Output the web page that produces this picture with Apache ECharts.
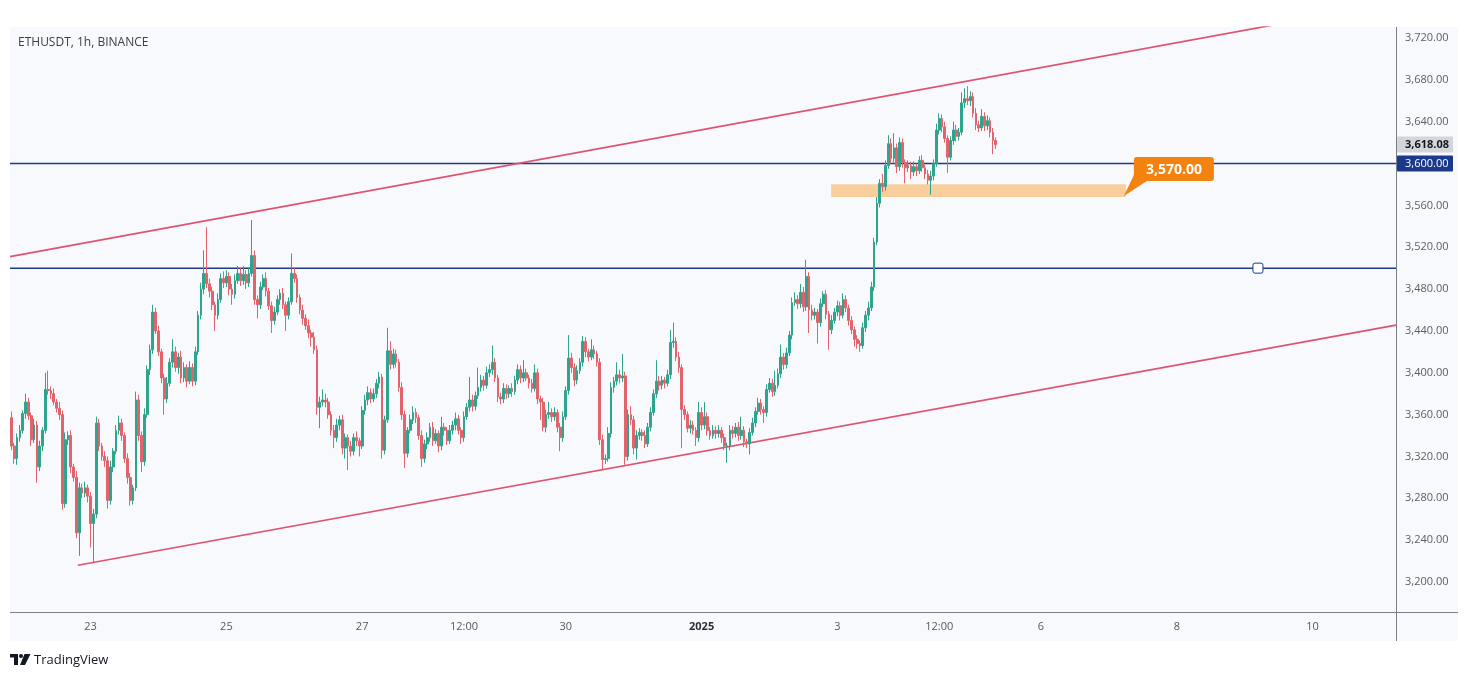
<!DOCTYPE html>
<html><head><meta charset="utf-8">
<script src="https://cdn.jsdelivr.net/npm/echarts@6/dist/echarts.min.js"></script>
<style>html,body{margin:0;padding:0;background:#fff;}#c{width:1469px;height:677px;}</style>
</head><body><div id="c"></div>
<script>
// ---------------- data ----------------
const symbolTitle = 'ETHUSDT, 1h, BINANCE';
const startTime = Date.UTC(2024, 11, 21, 20); // first hourly slot (Dec 21 20:00)
const slotCount = 490;                         // hourly slots shown on the time axis
const firstOpen = 3357;
const closes = [
 3330,3318,3338,3345,3361,3372,3359,3336,3350,3310,3330,3345,3384,3383,3380,3372,3366,3360,3275,3336,3340,3310,3300,3247,3290,3285,3290,3282,
 3256,3265,3352,3330,3320,3316,3278,3310,3325,3345,3352,3340,3318,3300,3278,3290,3374,3340,3315,3360,3403,3422,3458,3440,
 3420,3395,3375,3390,3410,3420,3405,3415,3395,3405,3392,3405,3392,3420,3455,3480,3495,3485,3478,3465,3455,3470,3490,3486,
 3492,3480,3475,3488,3495,3488,3494,3486,3495,3512,3470,3465,3482,3490,3478,3464,3450,3458,3470,3476,3465,3455,3468,3495,
 3490,3472,3460,3452,3445,3438,3434,3422,3367,3372,3374,3372,3360,3345,3338,3350,3355,3328,3338,3330,3325,3338,3335,3330,
 3364,3374,3381,3375,3380,3390,3396,3326,3355,3421,3408,3418,3410,3386,3360,3323,3345,3355,3362,3357,3340,3318,3332,3338,
 3348,3335,3342,3330,3348,3345,3335,3345,3350,3356,3345,3338,3358,3367,3374,3368,3378,3386,3393,3388,3400,3403,3410,3395,
 3377,3375,3385,3380,3385,3382,3393,3403,3395,3400,3395,3390,3385,3400,3375,3372,3348,3360,3362,3358,3362,3348,3338,3358,
 3383,3414,3405,3393,3402,3410,3430,3420,3415,3422,3418,3410,3336,3317,3318,3342,3386,3392,3398,3395,3397,3320,3360,3355,
 3328,3340,3343,3340,3332,3348,3362,3380,3392,3388,3393,3390,3398,3429,3430,3415,3405,3365,3360,3347,3350,3345,3338,3362,
 3350,3358,3345,3340,3345,3342,3345,3338,3330,3330,3345,3342,3348,3340,3345,3334,3332,3343,3352,3363,3371,3365,3362,3384,
 3390,3382,3388,3399,3415,3408,3419,3436,3467,3470,3466,3477,3463,3492,3460,3455,3458,3448,3466,3475,3456,3441,3450,3458,
 3464,3455,3470,3462,3450,3441,3432,3428,3426,3443,3455,3462,3482,3525,3562,3581,3578,3598,3619,3605,3615,3597,3620,3601,
 3596,3598,3592,3597,3593,3603,3596,3590,3584,3588,3600,3632,3643,3635,3624,3606,3622,3632,3626,3630,3658,3662,3660,3664,
 3648,3637,3634,3645,3636,3641,3630,3622,3618.08
];
const upWick = [
 6,3,4,5,3,8,4,3,6,4,5,3,16,18,4,5,3,6,4,7,4,5,3,6,5,4,6,3,
 4,5,6,4,3,5,4,6,3,5,7,4,3,5,4,3,8,5,4,6,4,5,7,4,
 5,3,4,6,4,12,5,4,6,5,3,6,4,5,4,6,22,44,5,4,3,6,5,7,
 6,4,5,6,7,5,8,4,6,34,5,4,5,4,6,3,4,5,4,4,5,3,4,19,
 5,4,3,5,4,6,3,5,4,5,10,6,4,3,5,6,4,5,4,3,5,4,6,3,
 4,5,6,4,5,4,5,3,4,22,9,5,4,3,5,4,3,5,6,4,3,5,4,5,
 4,5,4,3,10,4,3,5,4,6,4,3,5,4,22,5,4,19,5,4,6,5,16,4,
 3,4,5,4,3,5,4,5,4,12,4,3,4,8,4,3,4,5,10,4,5,3,4,5,
 4,22,5,4,5,4,5,4,3,10,4,3,4,5,4,6,5,4,12,5,21,4,5,8,
 4,5,4,3,5,4,5,4,20,5,4,3,5,12,18,4,5,3,4,3,5,4,3,10,
 5,14,4,3,5,4,5,3,4,3,5,4,4,5,13,4,3,4,5,4,5,4,3,5,
 5,4,14,5,12,4,5,4,5,7,4,8,5,16,4,5,4,3,5,3,4,3,5,4,
 5,4,6,4,3,4,3,4,3,5,4,6,5,4,6,4,9,5,8,5,14,4,5,4,
 3,5,4,5,3,4,5,3,4,5,4,6,5,4,5,3,4,8,5,4,10,10,12,5,
 4,5,4,7,4,5,3,4,3
];
const dnWick = [
 4,5,6,4,3,5,4,6,3,15,4,5,3,4,5,3,4,5,6,4,5,6,4,5,22,5,4,6,
 23,38,4,5,4,6,8,4,5,3,4,5,4,6,5,4,3,5,10,4,3,5,4,3,
 4,5,15,4,3,5,4,6,5,4,6,3,5,4,3,4,5,4,6,5,15,4,3,5,
 4,6,10,4,3,5,4,6,4,3,5,13,4,3,5,4,12,4,3,5,4,15,4,3,
 4,5,4,6,4,5,9,4,7,20,4,5,4,5,10,4,5,6,10,23,5,4,5,10,
 3,4,5,4,3,4,5,8,4,3,5,4,5,4,5,14,4,3,4,5,4,8,4,5,
 4,5,3,6,4,5,4,3,4,5,4,6,4,3,4,5,4,3,4,5,3,4,5,4,
 5,5,4,5,4,5,3,4,5,4,3,5,4,3,5,17,4,5,4,5,4,5,13,4,
 3,4,5,6,4,3,4,5,4,3,5,4,5,10,4,3,4,5,4,5,4,8,4,5,
 6,11,4,5,4,3,4,3,4,5,4,5,3,4,5,4,5,37,5,4,5,4,8,4,
 5,4,5,4,3,5,4,5,4,16,4,5,4,5,4,5,4,10,3,4,3,5,10,4,
 3,5,4,3,4,5,4,3,4,3,5,4,5,4,22,5,4,20,4,3,5,19,4,3,
 4,5,3,4,5,4,7,5,6,3,4,5,3,4,3,4,5,4,3,5,4,6,4,5,
 15,4,7,4,5,3,4,5,4,14,4,3,4,5,4,15,3,4,5,4,3,5,4,5,
 4,5,4,3,5,4,5,13,4
];
const tickLabels = [
 ['2024-12-23 00:00','23'], ['2024-12-25 00:00','25'], ['2024-12-27 00:00','27'],
 ['2024-12-28 12:00','12:00'], ['2024-12-30 00:00','30'], ['2025-01-01 00:00','2025'],
 ['2025-01-03 00:00','3'], ['2025-01-04 12:00','12:00'], ['2025-01-06 00:00','6'],
 ['2025-01-08 00:00','8'], ['2025-01-10 00:00','10']
];
const priceTicks = [3200,3240,3280,3320,3360,3400,3440,3480,3520,3560,3600,3640,3680,3720];
const priceMin = 3171.32, priceMax = 3730.51;
// drawings: x in hours since first slot
const upperChannel = [[-0.5, 3511], [460, 3739.3]];
const lowerChannel = [[23.5, 3216], [489.5, 3445.6]];
const levelLines = [3600, 3500];
const levelHandle = [[440.7, 3500]];
const supportZone = [[289.8, 3580.3, 394.0, 3568]];
const supportLabel = [[393.3, 3568.9, 3570]];
const lastPrice = 3618.08;

// ---------------- build ----------------
const GREEN = '#2fa48c', RED = '#e2636b', NAVY = '#1c3a8c', CHANNEL = '#de5470', ORANGE = '#f3820f';
const FONT = 'Open Sans';
const pad = n => String(n).padStart(2, '0');
const categories = [];
for (let i = 0; i < slotCount; i++) {
  const d = new Date(startTime + i * 3600e3);
  categories.push(`${d.getUTCFullYear()}-${pad(d.getUTCMonth()+1)}-${pad(d.getUTCDate())} ${pad(d.getUTCHours())}:00`);
}
const tickMap = new Map(tickLabels);
const fmt = v => v.toLocaleString('en-US', {minimumFractionDigits: 2, maximumFractionDigits: 2});
const candles = closes.map((c, i) => {
  const o = i ? closes[i-1] : firstOpen;
  return [o, c, Math.min(o, c) - dnWick[i], Math.max(o, c) + upWick[i]];
});
const xMin = -0.5, xMax = slotCount - 0.5;

const chart = echarts.init(document.getElementById('c'), null, {renderer: 'canvas'});
const lineSeries = (data, color, width, z) => ({
  type: 'line', xAxisIndex: 1, yAxisIndex: 0, data, symbol: 'none', clip: true, silent: true,
  lineStyle: {color, width}, z, animation: false
});
chart.setOption({
  animation: false,
  grid: {left: 10, right: 73, top: 27, bottom: 65, containLabel: false},
  xAxis: [{
    type: 'category', data: categories, boundaryGap: true,
    axisLine: {show: false}, axisTick: {show: false}, splitLine: {show: false},
    axisLabel: {
      interval: (idx, val) => tickMap.has(val), margin: 9,
      color: '#555862', fontSize: 11, fontFamily: FONT,
      formatter: v => { const t = tickMap.get(v) || ''; return t === '2025' ? '{b|2025}' : t; },
      rich: {b: {fontWeight: 'bold', color: '#2a2e39', fontSize: 11, fontFamily: FONT}}
    }
  }, {
    type: 'value', min: xMin, max: xMax, show: false
  }],
  yAxis: [{
    type: 'value', position: 'right', min: priceMin, max: priceMax, scale: true,
    axisLine: {show: false}, axisTick: {show: false}, splitLine: {show: false},
    axisLabel: {customValues: priceTicks, formatter: v => fmt(v), margin: 9, color: '#5a5d68', fontSize: 11, fontFamily: FONT}
  }],
  graphic: [
    {type: 'rect', z: -100, silent: true, shape: {x: 10, y: 27, width: 1448, height: 614}, style: {fill: '#f8f9fc'}},
    {type: 'line', z: 10, silent: true, shape: {x1: 1396.5, y1: 27, x2: 1396.5, y2: 641}, style: {stroke: '#7b7e88', lineWidth: 1}},
    {type: 'line', z: 10, silent: true, shape: {x1: 10, y1: 612.5, x2: 1458, y2: 612.5}, style: {stroke: '#7b7e88', lineWidth: 1}},
    {type: 'text', silent: true, x: 18, y: 43, style: {text: symbolTitle, fill: '#3a3e4a', fontSize: 12, fontFamily: FONT, verticalAlign: 'middle'}},
    {type: 'group', silent: true, children: [
      {type: 'rect', shape: {x: 10, y: 654, width: 8, height: 3.5}, style: {fill: '#131722'}},
      {type: 'rect', shape: {x: 14, y: 654, width: 4, height: 11}, style: {fill: '#131722'}},
      {type: 'circle', shape: {cx: 21, cy: 656, r: 2}, style: {fill: '#131722'}},
      {type: 'polygon', shape: {points: [[24.5,654],[30.5,654],[25,665],[20,665]]}, style: {fill: '#131722'}},
      {type: 'text', x: 34, y: 660, style: {text: 'TradingView', fill: '#131722', fontSize: 13, fontFamily: FONT, verticalAlign: 'middle'}}
    ]}
  ],
  series: [
    {
      type: 'custom', xAxisIndex: 1, yAxisIndex: 0, data: supportZone, z: 1, silent: true, clip: true,
      renderItem: (p, api) => {
        const a = api.coord([api.value(0), api.value(1)]), b = api.coord([api.value(2), api.value(3)]);
        return {type: 'rect', shape: {x: a[0], y: a[1], width: b[0]-a[0], height: b[1]-a[1]}, style: {fill: '#f8cf9c'}};
      }
    },
    ...levelLines.map(v => lineSeries([[xMin, v], [xMax, v]], NAVY, 1.5, 2)),
    lineSeries(upperChannel, CHANNEL, 1.7, 2),
    lineSeries(lowerChannel, CHANNEL, 1.7, 2),
    {
      type: 'candlestick', xAxisIndex: 0, yAxisIndex: 0, data: candles, barWidth: 2.2, z: 3, silent: true,
      itemStyle: {color: GREEN, color0: RED, borderColor: GREEN, borderColor0: RED, borderWidth: 1}
    },
    {
      type: 'custom', xAxisIndex: 1, yAxisIndex: 0, data: levelHandle, z: 5, silent: true, clip: false,
      renderItem: (p, api) => {
        const c = api.coord([api.value(0), api.value(1)]);
        return {type: 'rect', shape: {x: c[0]-5, y: c[1]-5, width: 10, height: 10, r: 2}, style: {fill: '#ffffff', stroke: NAVY, lineWidth: 1}};
      }
    },
    {
      type: 'custom', xAxisIndex: 1, yAxisIndex: 0, data: supportLabel, z: 6, silent: true, clip: false,
      renderItem: (p, api) => {
        const t = api.coord([api.value(0), api.value(1)]);
        const bx = t[0] + 10, by = t[1] - 39, bw = 80, bh = 24;
        return {type: 'group', children: [
          {type: 'polygon', shape: {points: [[bx, by+bh-6], [bx+13, by+bh], [t[0], t[1]]]}, style: {fill: ORANGE}},
          {type: 'rect', shape: {x: bx, y: by, width: bw, height: bh, r: 3}, style: {fill: ORANGE}},
          {type: 'text', x: bx + bw/2, y: by + bh/2 + 0.5, style: {text: fmt(api.value(2)), fill: '#fff', fontSize: 14, fontWeight: 'bold', fontFamily: FONT, align: 'center', verticalAlign: 'middle'}}
        ]};
      }
    },
    {
      type: 'custom', xAxisIndex: 1, yAxisIndex: 0, z: 20, silent: true, clip: false,
      data: [[xMax, lastPrice, 0], [xMax, levelLines[0], 1]],
      renderItem: (p, api) => {
        const c = api.coord([api.value(0), api.value(1)]);
        const navy = api.value(2) === 1;
        return {type: 'group', children: [
          {type: 'rect', shape: {x: c[0]+1, y: c[1]-8, width: 56, height: 16, r: 1}, style: {fill: navy ? NAVY : '#d3d5da'}},
          {type: 'text', x: c[0]+9, y: c[1]+0.5, style: {text: fmt(api.value(1)), fill: navy ? '#fff' : '#131722', fontSize: 11, fontWeight: navy ? 'normal' : 'bold', fontFamily: FONT, verticalAlign: 'middle'}}
        ]};
      }
    }
  ]
});
</script></body></html>
